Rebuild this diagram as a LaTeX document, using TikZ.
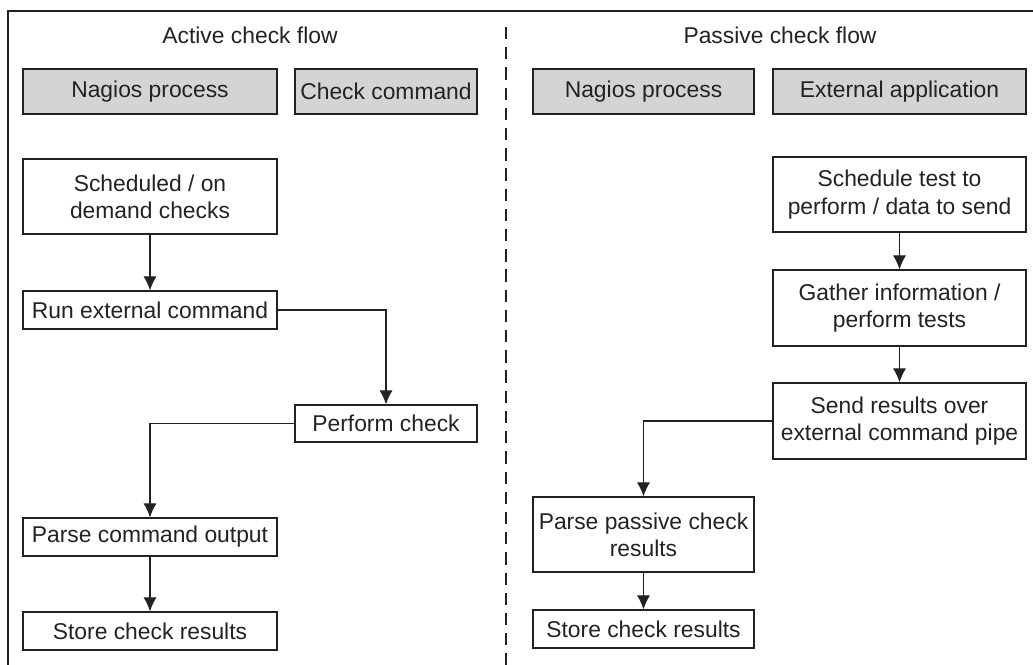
\documentclass[tikz,border=0pt]{standalone}
\usepackage{fontspec}
\setmainfont{Liberation Sans}
\usetikzlibrary{arrows.meta}
\definecolor{boxgray}{HTML}{D4D4D4}
\definecolor{inkgray}{HTML}{222222}
\tikzset{
    stepbox/.style={draw=inkgray, line width=0.7pt, text=inkgray, align=center, inner sep=0pt,
        font=\fontsize{13}{15.5}\selectfont},
    headbox/.style={stepbox, fill=boxgray, minimum height=0.9cm},
    flow/.style={draw=inkgray, line width=0.7pt, -{Latex[length=8pt,width=7.5pt]}},
}
\begin{document}
\begin{tikzpicture}[x=0.02cm, y=-0.02cm]
        \useasboundingbox (0,0) rectangle (1033,665);
        % frame and divider
        \draw [inkgray, line width=0.7pt] (8,665) -- (8,11) -- (1033,11);
        \draw [inkgray, line width=0.6pt, dash pattern=on 7pt off 4.5pt] (506,27) -- (506,665);

        % active check flow
        \node [text=inkgray, font=\fontsize{13}{15.5}\selectfont] (atitle) at (250,35) {Active check flow};
        \node [headbox, minimum width=5.08cm] (nagiosA) at (150,91.5) {Nagios process};
        \node [headbox, minimum width=3.64cm] (checkcmd) at (386,91.5) {Check command};

        \node [stepbox, minimum width=5.08cm, minimum height=1.5cm] (sched) at (150,196.5) {Scheduled / on\\demand checks};
        \node [stepbox, minimum width=5.08cm, minimum height=0.76cm] (run) at (150,310) {Run external command};
        \node [stepbox, minimum width=3.64cm, minimum height=0.74cm] (perform) at (386,423.5) {Perform check};
        \node [stepbox, minimum width=5.08cm, minimum height=0.76cm] (parse) at (150,537) {Parse command output};
        \node [stepbox, minimum width=5.08cm, minimum height=0.76cm] (store) at (150,631) {Store check results};

        \draw [flow] (sched) -- (run);
        \draw [flow] (run.east) -| (perform.north);
        \draw [flow] (perform.west) -| (parse.north);
        \draw [flow] (parse) -- (store);

        % passive check flow
        \node [text=inkgray, font=\fontsize{13}{15.5}\selectfont] (ptitle) at (780,35) {Passive check flow};
        \node [headbox, minimum width=4.42cm] (nagiosP) at (643.5,91.5) {Nagios process};
        \node [headbox, minimum width=5.06cm] (extapp) at (899.5,91.5) {External application};

        \node [stepbox, minimum width=5.06cm, minimum height=1.5cm] (plan) at (899.5,194.5) {Schedule test to\\perform / data to send};
        \node [stepbox, minimum width=5.06cm, minimum height=1.52cm] (gather) at (899.5,308) {Gather information /\\perform tests};
        \node [stepbox, minimum width=5.06cm, minimum height=1.52cm] (send) at (899.5,421) {Send results over\\external command pipe};
        \node [stepbox, minimum width=4.42cm, minimum height=1.5cm] (pparse) at (643.5,534.5) {Parse passive check\\results};
        \node [stepbox, minimum width=4.42cm, minimum height=0.76cm] (pstore) at (643.5,629) {Store check results};

        \draw [flow] (plan) -- (gather);
        \draw [flow] (gather) -- (send);
        \draw [flow] (send.west) -| (pparse.north);
        \draw [flow] (pparse) -- (pstore);
    \end{tikzpicture}
\end{document}
